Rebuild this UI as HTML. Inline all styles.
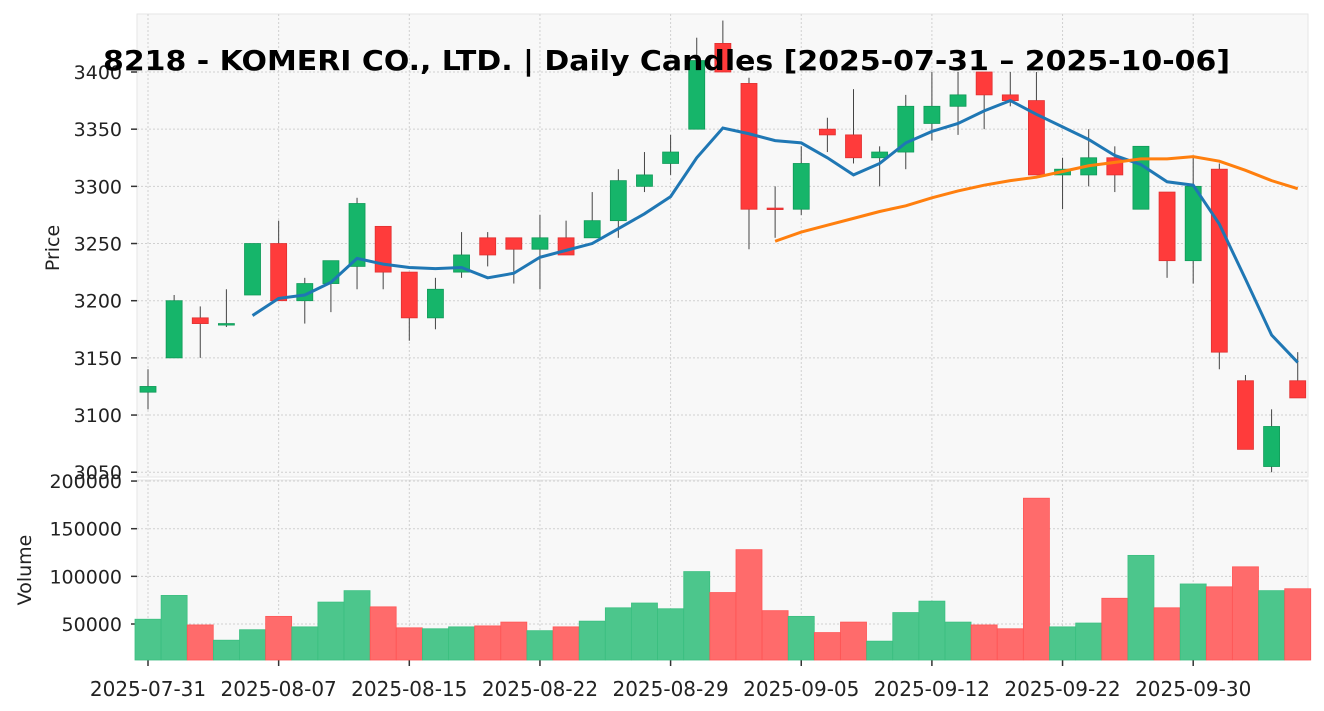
<!DOCTYPE html>
<html><head><meta charset="utf-8"><style>
html,body{margin:0;padding:0;background:#fff;}
svg{display:block;font-family:"DejaVu Sans","Liberation Sans",sans-serif;}
</style></head><body>
<svg id="s" width="1324" height="711" xmlns="http://www.w3.org/2000/svg"></svg>
<script>
const d=[
[3120,3125,3140,3105,55000],[3150,3200,3205,3150,80000],[3185,3180,3195,3150,49000],[3180,3180,3210,3177,33000],
[3205,3250,3250,3205,44000],[3250,3200,3270,3200,58000],[3200,3215,3220,3180,47000],[3215,3235,3235,3190,73000],
[3230,3285,3290,3210,85000],[3265,3225,3265,3210,68000],[3225,3185,3225,3165,46000],[3185,3210,3220,3175,45000],
[3225,3240,3260,3220,47000],[3255,3240,3260,3230,48000],[3255,3245,3255,3215,52000],[3245,3255,3275,3210,43000],
[3255,3240,3270,3240,47000],[3255,3270,3295,3255,53000],[3270,3305,3315,3255,67000],[3300,3310,3330,3295,72000],
[3320,3330,3345,3310,66000],[3350,3410,3430,3350,105000],[3425,3400,3445,3400,83000],[3390,3280,3395,3245,128000],
[3281,3280,3300,3255,64000],[3280,3320,3335,3275,58000],[3350,3345,3360,3330,41000],[3345,3325,3385,3320,52000],
[3325,3330,3335,3300,32000],[3330,3370,3380,3315,62000],[3355,3370,3400,3340,74000],[3370,3380,3400,3345,52000],
[3400,3380,3400,3350,49000],[3380,3375,3400,3370,45000],[3375,3310,3400,3310,182000],[3310,3315,3325,3280,47000],
[3310,3325,3350,3300,51000],[3325,3310,3335,3295,77000],[3280,3335,3335,3280,122000],[3295,3235,3295,3220,67000],
[3235,3300,3325,3215,92000],[3315,3155,3320,3140,89000],[3130,3070,3135,3070,110000],[3055,3090,3105,3050,85000],
[3130,3115,3155,3115,87000]];
const X=i=>148+i*26.13, Y=p=>72+(3400-p)*1.1435, VY=v=>624-(v-50000)*0.000953;
let h='';
h+='<rect x="137" y="14" width="1171" height="463" fill="#f8f8f8" stroke="#e6e6e6"/>';
h+='<rect x="137" y="480" width="1171" height="180" fill="#f8f8f8" stroke="#e6e6e6"/>';
const g='stroke="#d0d0d0" stroke-dasharray="2,2" stroke-width="1"';
const ticks=[[0,'2025-07-31'],[5,'2025-08-07'],[10,'2025-08-15'],[15,'2025-08-22'],[20,'2025-08-29'],[25,'2025-09-05'],[30,'2025-09-12'],[35,'2025-09-22'],[40,'2025-09-30']];
ticks.forEach(t=>{const x=X(t[0]);h+=`<line x1="${x}" y1="14" x2="${x}" y2="477" ${g}/><line x1="${x}" y1="480" x2="${x}" y2="660" ${g}/><line x1="${x}" y1="660" x2="${x}" y2="666" stroke="#333" stroke-width="1.5"/><text x="${x}" y="696" font-size="20" text-anchor="middle" fill="#222">${t[1]}</text>`;});
for(let p=3050;p<=3400;p+=50){const y=Y(p);h+=`<line x1="137" y1="${y}" x2="1308" y2="${y}" ${g}/><line x1="131" y1="${y}" x2="137" y2="${y}" stroke="#333" stroke-width="1.5"/><text x="122" y="${y+7}" font-size="19" text-anchor="end" fill="#222">${p}</text>`;}
for(let v=50000;v<=200000;v+=50000){const y=VY(v);h+=`<line x1="137" y1="${y}" x2="1308" y2="${y}" ${g}/><line x1="131" y1="${y}" x2="137" y2="${y}" stroke="#333" stroke-width="1.5"/><text x="122" y="${y+7}" font-size="19" text-anchor="end" fill="#222">${v}</text>`;}
d.forEach((c,i)=>{const x=X(i),up=c[1]>=c[0],col=up?'#16b56a':'#ff3b3b';
 const vy=VY(c[4]);h+=`<rect x="${x-13}" y="${vy}" width="26" height="${660-vy}" fill="${up?'#4cc68c':'#ff6b6b'}" stroke="${up?'#3bbf80':'#ff5555'}" stroke-width="0.8"/>`;
 h+=`<line x1="${x}" y1="${Y(c[2])}" x2="${x}" y2="${Y(c[3])}" stroke="#444" stroke-width="1"/>`;
 const t=Y(Math.max(c[0],c[1])),b=Y(Math.min(c[0],c[1]));h+=`<rect x="${x-8}" y="${t}" width="16" height="${Math.max(b-t,1.5)}" fill="${col}" stroke="${up?'#0f9a58':'#e03030'}" stroke-width="0.8"/>`;});
function ma(n,col){let pts=[];for(let i=n-1;i<d.length;i++){let s=0;for(let j=i-n+1;j<=i;j++)s+=d[j][1];pts.push(X(i)+','+Y(s/n));}h+=`<polyline points="${pts.join(' ')}" fill="none" stroke="${col}" stroke-width="3"/>`;}
ma(5,'#1f77b4');
const op=[[24,3252],[25,3260],[26,3266],[27,3272],[28,3278],[29,3283],[30,3290],[31,3296],[32,3301],[33,3305],[34,3308],[35,3313],[36,3318],[37,3321],[38,3324],[39,3324],[40,3326],[41,3322],[42,3314],[43,3305],[44,3298]];
h+=`<polyline points="${op.map(p=>X(p[0])+','+Y(p[1])).join(' ')}" fill="none" stroke="#ff7f0e" stroke-width="3"/>`;
h+='<text x="103" y="70" font-size="28" font-weight="bold" textLength="1127" lengthAdjust="spacingAndGlyphs" fill="#000">8218 - KOMERI CO., LTD. | Daily Candles [2025-07-31 – 2025-10-06]</text>';
h+='<text transform="translate(59,248) rotate(-90)" font-size="19" text-anchor="middle" fill="#222">Price</text>';
h+='<text transform="translate(31,570) rotate(-90)" font-size="19" text-anchor="middle" fill="#222">Volume</text>';
document.getElementById('s').innerHTML=h;
</script>
</body></html>
